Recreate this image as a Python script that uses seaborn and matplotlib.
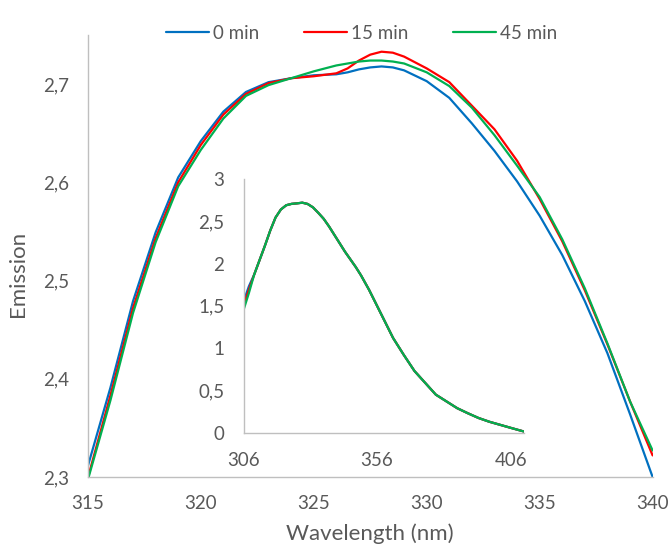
import matplotlib
matplotlib.use("Agg")
import matplotlib.pyplot as plt
import matplotlib.ticker as mticker
import pandas as pd
import seaborn as sns

# main chart data (315-340 nm)
wavelength = [315, 316, 317, 318, 319, 320, 321, 322, 323, 324, 325, 326,
              326.5, 327, 327.5, 328, 328.5, 329, 330, 331, 332, 333, 334,
              335, 336, 337, 338, 339, 340]
emission_0 = [2.311, 2.391, 2.479, 2.549, 2.605, 2.642, 2.672, 2.692, 2.702,
              2.706, 2.709, 2.710, 2.712, 2.715, 2.717, 2.718, 2.717, 2.714,
              2.703, 2.686, 2.660, 2.632, 2.601, 2.566, 2.526, 2.479, 2.426,
              2.364, 2.300]
emission_15 = [2.299, 2.383, 2.472, 2.543, 2.600, 2.638, 2.669, 2.690, 2.701,
               2.706, 2.708, 2.711, 2.716, 2.724, 2.730, 2.733, 2.732, 2.728,
               2.716, 2.702, 2.678, 2.654, 2.622, 2.583, 2.540, 2.490, 2.435,
               2.377, 2.322]
emission_45 = [2.297, 2.378, 2.467, 2.539, 2.596, 2.633, 2.665, 2.688, 2.699,
               2.706, 2.713, 2.719, 2.721, 2.723, 2.724, 2.724, 2.723, 2.721,
               2.712, 2.698, 2.676, 2.648, 2.617, 2.585, 2.542, 2.492, 2.436,
               2.377, 2.327]

# inset data (full spectrum)
inset_wavelength = [306, 308, 310, 312, 314, 316, 318, 320, 322, 324, 326,
                    328, 330, 332, 334, 336, 338, 340, 342, 344, 346, 348,
                    350, 353, 356, 359, 362, 366, 370, 374, 378, 382, 386,
                    390, 394, 398, 402, 406, 411]
inset_tail = [1.87, 2.04, 2.21, 2.39, 2.545, 2.64, 2.69, 2.706, 2.712, 2.72,
              2.705, 2.665, 2.60, 2.53, 2.44, 2.34, 2.24, 2.14, 2.05, 1.96,
              1.86, 1.69, 1.50, 1.31, 1.12, 0.92, 0.73, 0.59, 0.45, 0.37,
              0.29, 0.23, 0.174, 0.13, 0.094, 0.058, 0.014]
inset_0 = [1.55, 1.73] + inset_tail
inset_15 = [1.50, 1.69] + inset_tail
inset_45 = [1.45, 1.65] + inset_tail

labels = ["0 min", "15 min", "45 min"]
colors = ["#0070C0", "#FF0000", "#00B050"]

sns.set_style("white")
plt.rcParams["font.family"] = ["Lato", "DejaVu Sans"]
text_color = "#595959"
axis_color = "#BFBFBF"


def comma(x, pos):
    s = f"{x:g}"
    return s.replace(".", ",")


fig = plt.figure(figsize=(6.71, 5.53), dpi=100)
ax = fig.add_axes([0.1309, 0.1374, 0.8417, 0.7993])

main_df = pd.DataFrame({"wl": wavelength, labels[0]: emission_0,
                        labels[1]: emission_15, labels[2]: emission_45})
for lab, col in zip(labels, colors):
    sns.lineplot(data=main_df, x="wl", y=lab, color=col, lw=1.6,
                 label=lab, ax=ax)

ax.set_xlim(315, 340)
ax.set_ylim(2.3, 2.75)
ax.set_xticks([315, 320, 325, 330, 335, 340])
ax.set_yticks([2.3, 2.4, 2.5, 2.6, 2.7])
ax.yaxis.set_major_formatter(mticker.FuncFormatter(comma))
for side in ["top", "right"]:
    ax.spines[side].set_visible(False)
for side in ["left", "bottom"]:
    ax.spines[side].set_color(axis_color)
    ax.spines[side].set_linewidth(1)
ax.tick_params(axis="both", colors=axis_color, labelcolor=text_color,
               labelsize=13.5, length=4.3, width=1)
ax.tick_params(axis="y", pad=9.4)
ax.tick_params(axis="x", pad=8.6)
ax.set_xlabel("Wavelength (nm)", fontsize=16, color=text_color)
ax.set_ylabel("Emission", fontsize=16, color=text_color)
ax.xaxis.set_label_coords(0.5, -0.104)
ax.yaxis.set_label_coords(-0.106, 0.459)

ax.legend(loc="center", bbox_to_anchor=(0.539, 0.940),
          bbox_transform=fig.transFigure, ncol=3, frameon=False,
          fontsize=13.5, handlelength=2.3, handletextpad=0.2,
          columnspacing=2.4, labelcolor=text_color)

# inset
ins = fig.add_axes([0.3629, 0.2175, 0.418, 0.4588])
ins.patch.set_alpha(0)
inset_df = pd.DataFrame({"wl": inset_wavelength, labels[0]: inset_0,
                         labels[1]: inset_15, labels[2]: inset_45})
for lab, col in zip(labels, colors):
    sns.lineplot(data=inset_df, x="wl", y=lab, color=col, lw=1.6,
                 legend=False, ax=ins)
ins.set_xlim(306, 411)
ins.set_ylim(0, 3)
ins.set_xticks([306, 356, 406])
ins.set_yticks([0, 0.5, 1, 1.5, 2, 2.5, 3])
ins.yaxis.set_major_formatter(mticker.FuncFormatter(comma))
ins.set_xlabel("")
ins.set_ylabel("")
for side in ["top", "right"]:
    ins.spines[side].set_visible(False)
for side in ["left", "bottom"]:
    ins.spines[side].set_color(axis_color)
    ins.spines[side].set_linewidth(1)
ins.tick_params(axis="both", length=0, labelcolor=text_color, labelsize=13.5)
ins.tick_params(axis="y", pad=13.7)
ins.tick_params(axis="x", pad=13.7)

fig.savefig("out.png", dpi=100)
